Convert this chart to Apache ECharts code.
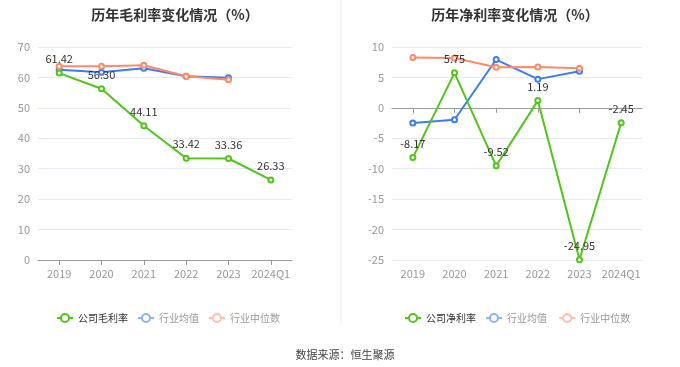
<!DOCTYPE html>
<html><head><meta charset="utf-8">
<script src="https://cdn.jsdelivr.net/npm/echarts@6/dist/echarts.min.js"></script>
<style>html,body{margin:0;padding:0;background:#fff}#c{width:680px;height:367px}</style>
</head><body><div id="c"></div>
<script>
var categories = ['2019','2020','2021','2022','2023','2024Q1'];
var grossCompany = [61.42, 56.30, 44.11, 33.42, 33.36, 26.33];
var grossIndustryAvg = [62.5, 61.7, 63.0, 60.4, 59.9, null];
var grossIndustryMedian = [63.7, 63.7, 64.0, 60.4, 59.2, null];
var netCompany = [-8.17, 5.75, -9.52, 1.19, -24.95, -2.45];
var netIndustryAvg = [-2.5, -1.96, 7.94, 4.72, 6.03, null];
var netIndustryMedian = [8.27, 8.2, 6.68, 6.73, 6.5, null];

var GREEN = '#52c41a', BLUE = '#3b7cf0', ORANGE = '#ff8a65';
var font = '"Noto Sans CJK SC", "Noto Sans", sans-serif';
function xAx(i){return {type:'category',gridIndex:i,data:categories,boundaryGap:true,
  axisLine:{onZero:true,lineStyle:{color:'#999'}},axisTick:{show:true,alignWithLabel:true,lineStyle:{color:'#999'}},
  axisLabel:{color:'#999',fontSize:11,fontFamily:font,margin:8,interval:0}};}
function yAx(i,min,max){return {type:'value',gridIndex:i,min:min,max:max,interval:i===0?10:5,
  axisLine:{show:false},axisTick:{show:false},
  splitLine:{lineStyle:{color:'#e6ebf5'}},
  axisLabel:{color:'#999',fontSize:11,fontFamily:font,margin:8}};}
function line(name,data,color,xi,label){return {name:name,type:'line',xAxisIndex:xi,yAxisIndex:xi,data:data,
  symbol:'emptyCircle',symbolSize:5,lineStyle:{width:2,color:color},itemStyle:{color:color},
  z:label?5:3,
  label:{show:!!label,position:'top',color:'#333',fontSize:11,fontFamily:font,formatter:function(p){return p.value.toFixed(2);}}};}
function legend(left,names){return {left:left,top:308,itemWidth:16,itemHeight:10,itemGap:9,
  textStyle:{fontSize:10,fontFamily:font,color:'#999'},
  data:[{name:names[0],textStyle:{color:'#333'}},
        {name:names[1],itemStyle:{color:'#8fb3f7'},lineStyle:{color:'#8fb3f7'}},
        {name:names[2],itemStyle:{color:'#ffbfa8'},lineStyle:{color:'#ffbfa8'}}]};}
var chart = echarts.init(document.getElementById('c'));
chart.setOption({
  animation:false,
  title:[
    {text:'历年毛利率变化情况（%）',left:170,top:3,textAlign:'center',textStyle:{fontSize:14,fontWeight:'bold',color:'#333',fontFamily:font}},
    {text:'历年净利率变化情况（%）',left:510,top:3,textAlign:'center',textStyle:{fontSize:14,fontWeight:'bold',color:'#333',fontFamily:font}},
    {text:'数据来源：恒生聚源',left:340,top:344,textAlign:'center',textStyle:{fontSize:11,fontWeight:'normal',color:'#444',fontFamily:font}}
  ],
  graphic:[{type:'line',shape:{x1:341,y1:0,x2:341,y2:325},style:{stroke:'#eee',lineWidth:1}}],
  grid:[{left:38,right:388,top:47,height:213},{left:392,right:38,top:47,height:213}],
  xAxis:[xAx(0),xAx(1)],
  yAxis:[yAx(0,0,70),yAx(1,-25,10)],
  legend:[legend(51,['公司毛利率','行业均值','行业中位数']),legend(399,['公司净利率','行业均值 ','行业中位数 '])],
  series:[
    line('行业均值',grossIndustryAvg,BLUE,0,false),
    line('行业中位数',grossIndustryMedian,ORANGE,0,false),
    line('公司毛利率',grossCompany,GREEN,0,true),
    line('行业均值 ',netIndustryAvg,BLUE,1,false),
    line('行业中位数 ',netIndustryMedian,ORANGE,1,false),
    line('公司净利率',netCompany,GREEN,1,true)
  ]
});
</script></body></html>
